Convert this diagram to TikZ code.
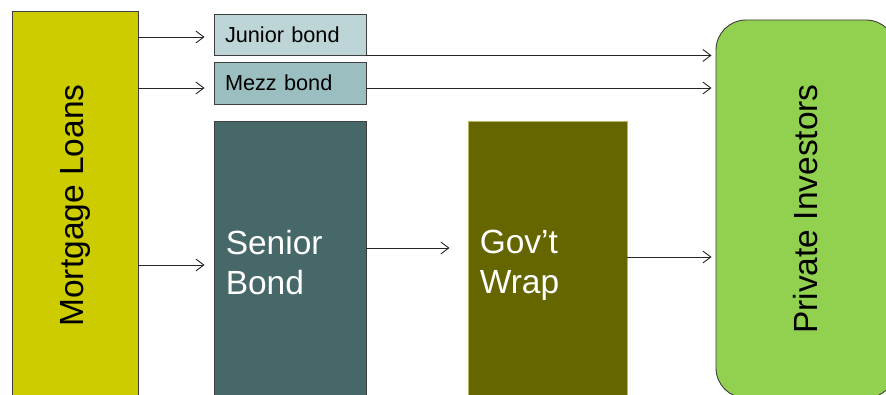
\documentclass[tikz,border=0pt]{standalone}
\usepackage{fontspec}
\setmainfont{Liberation Sans}
\usepackage{xcolor}
\usetikzlibrary{arrows.meta}

\definecolor{loanfill}{HTML}{CCCC00}
\definecolor{juniorfill}{HTML}{BDD5D6}
\definecolor{mezzfill}{HTML}{9BBFC0}
\definecolor{seniorfill}{HTML}{466868}
\definecolor{govfill}{HTML}{666600}
\definecolor{govline}{HTML}{B8B860}
\definecolor{investfill}{HTML}{92D050}
\definecolor{edge}{HTML}{3F3F3F}

\tikzset{
  box/.style={draw=edge, line width=0.9pt, rectangle, inner sep=0pt},
  bigtxt/.style={font=\fontsize{33.5}{40}\selectfont},
  smalltxt/.style={font=\fontsize{21.7}{26}\selectfont},
  intxt/.style={bigtxt, text=white, align=left, anchor=north west, inner sep=0pt},
  flow/.style={-{Straight Barb[length=8pt,width=12pt]}, line width=0.9pt, draw=black!85},
}

\begin{document}
\begin{tikzpicture}[x=1pt, y=1pt]
\useasboundingbox (0,0) rectangle (886,395);
\clip (0,0) rectangle (886,395);

% left and right blocks
\node[box, fill=loanfill, minimum width=126, minimum height=389] (loans) at (75,189.5) {};
\node[bigtxt, rotate=90] (loanstxt) at (loans) {Mortgage Loans};
\node[box, fill=investfill, rounded corners=30, minimum width=180, minimum height=378] (investors) at (806,186) {};
\node[bigtxt, rotate=90] (investtxt) at (investors) {Private Investors};

% tranches
\node[box, smalltxt, fill=juniorfill, minimum width=152, minimum height=41, text width=130, inner xsep=11, align=left] (junior) at (290,360.5) {Junior bond};
\node[box, smalltxt, fill=mezzfill, minimum width=152, minimum height=42, text width=130, inner xsep=11, align=left] (mezz) at (290,312) {Mezz bond};
\node[box, fill=seniorfill, minimum width=152, minimum height=279] (senior) at (290,134.5) {};
\node[box, draw=govline, fill=govfill, minimum width=159, minimum height=279] (wrap) at (547.5,134.5) {};
\node[intxt] (seniortxt) at ([xshift=12,yshift=-109]senior.north west) {Senior\\Bond};
\node[intxt] (wraptxt) at ([xshift=12,yshift=-109]wrap.north west) {Gov’t\\Wrap};

% arrows
\draw[flow, shorten >=9] ([yshift=-2.5]loans.east |- junior.west) -- ([yshift=-2.5]junior.west);
\draw[flow, shorten >=9] ([yshift=-5]loans.east |- mezz.west) -- ([yshift=-5]mezz.west);
\draw[flow, shorten >=9] ([yshift=-4.5]loans.east |- senior.west) -- ([yshift=-4.5]senior.west);
\draw[flow, shorten >=4] (junior.south east) -- (investors.west |- junior.south east);
\draw[flow, shorten >=4] ([yshift=-5]mezz.east) -- ([yshift=-5]investors.west |- mezz.east);
\draw[flow, shorten >=18] ([yshift=12.5]senior.east) -- ([yshift=12.5]wrap.west);
\draw[flow, shorten >=4] ([yshift=3.5]wrap.east) -- ([yshift=3.5]investors.west |- wrap.east);
\end{tikzpicture}
\end{document}
